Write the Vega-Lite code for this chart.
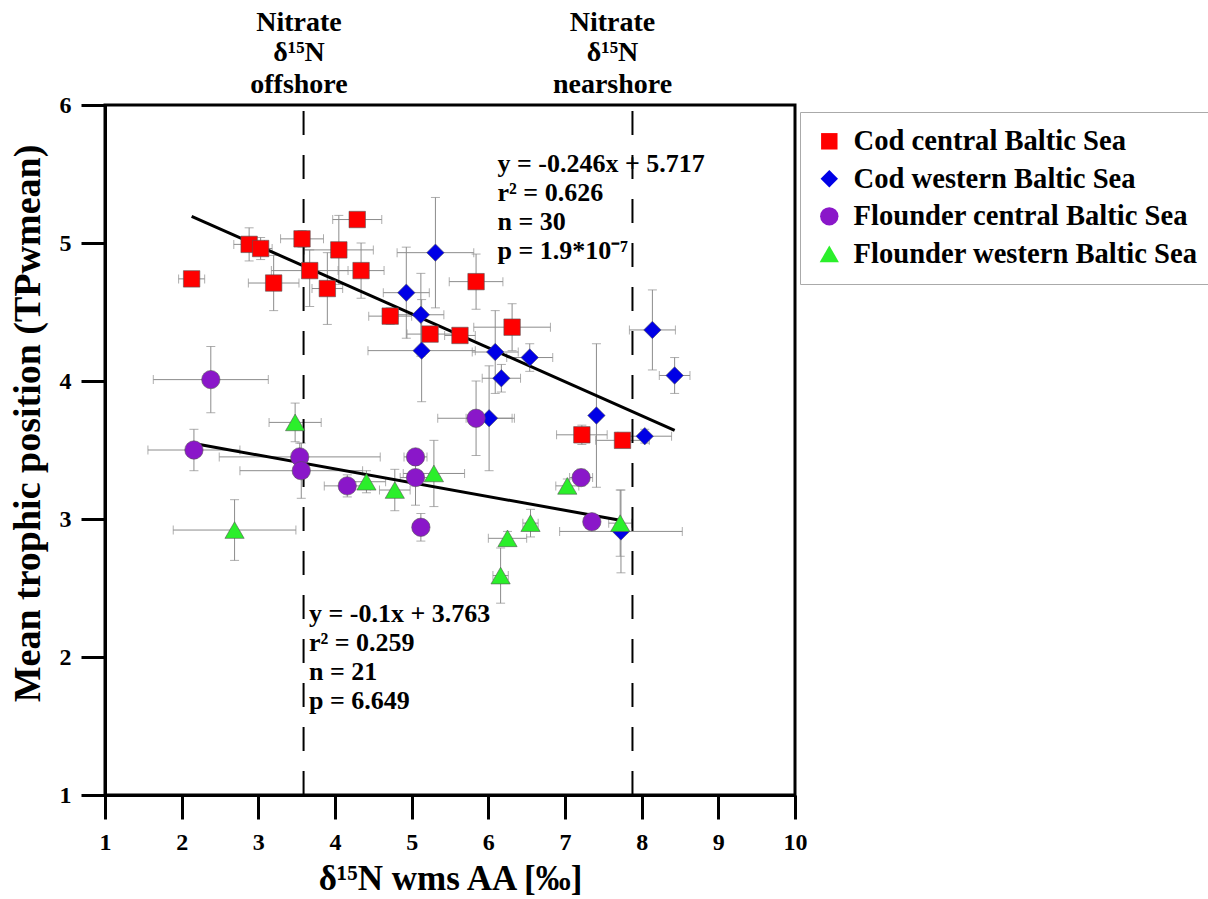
{
  "$schema": "https://vega.github.io/schema/vega-lite/v6.json",
  "width": 690,
  "height": 690,
  "autosize": "none",
  "padding": {"left": 105, "top": 105, "right": 413, "bottom": 104},
  "background": "white",
  "config": {
    "view": {"stroke": "black", "strokeWidth": 3},
    "axis": {
      "labelFont": "Liberation Serif", "labelFontWeight": "bold", "labelFontSize": 24, "labelColor": "black",
      "titleFont": "Liberation Serif", "titleFontWeight": "bold", "titleFontSize": 35, "titleColor": "black",
      "domainColor": "black", "domainWidth": 3, "tickColor": "black", "tickWidth": 3, "tickSize": 24, "grid": false,
      "format": "d", "titleLimit": 1000, "labelFlush": false
    },
    "axisX": {"labelPadding": 11, "titlePadding": 7},
    "axisY": {"labelPadding": 10, "titlePadding": 12, "labelFontSize": 24, "titleFontSize": 38, "titleY": 318}
  },
  "datasets": {
    "pts": [
      {"g": "Cod central Baltic Sea", "x": 2.13, "y": 4.74, "xlo": 1.96, "xhi": 2.30, "ylo": 4.70, "yhi": 4.78},
      {"g": "Cod central Baltic Sea", "x": 2.88, "y": 4.99, "xlo": 2.68, "xhi": 3.08, "ylo": 4.87, "yhi": 5.11},
      {"g": "Cod central Baltic Sea", "x": 3.03, "y": 4.96, "xlo": 2.88, "xhi": 3.18, "ylo": 4.88, "yhi": 5.04},
      {"g": "Cod central Baltic Sea", "x": 3.57, "y": 5.03, "xlo": 3.29, "xhi": 3.85, "ylo": 4.97, "yhi": 5.09},
      {"g": "Cod central Baltic Sea", "x": 3.20, "y": 4.71, "xlo": 2.87, "xhi": 3.53, "ylo": 4.51, "yhi": 4.91},
      {"g": "Cod central Baltic Sea", "x": 3.67, "y": 4.80, "xlo": 3.17, "xhi": 4.17, "ylo": 4.54, "yhi": 4.95},
      {"g": "Cod central Baltic Sea", "x": 3.90, "y": 4.67, "xlo": 3.70, "xhi": 4.10, "ylo": 4.41, "yhi": 4.93},
      {"g": "Cod central Baltic Sea", "x": 4.05, "y": 4.95, "xlo": 3.60, "xhi": 4.50, "ylo": 4.70, "yhi": 5.20},
      {"g": "Cod central Baltic Sea", "x": 4.29, "y": 5.17, "xlo": 3.97, "xhi": 4.61, "ylo": 5.12, "yhi": 5.22},
      {"g": "Cod central Baltic Sea", "x": 4.34, "y": 4.80, "xlo": 4.04, "xhi": 4.64, "ylo": 4.60, "yhi": 5.00},
      {"g": "Cod central Baltic Sea", "x": 4.72, "y": 4.47, "xlo": 4.44, "xhi": 5.00, "ylo": 4.41, "yhi": 4.53},
      {"g": "Cod central Baltic Sea", "x": 5.24, "y": 4.34, "xlo": 4.94, "xhi": 5.54, "ylo": 4.29, "yhi": 4.39},
      {"g": "Cod central Baltic Sea", "x": 5.63, "y": 4.33, "xlo": 5.43, "xhi": 5.83, "ylo": 4.28, "yhi": 4.38},
      {"g": "Cod central Baltic Sea", "x": 5.84, "y": 4.72, "xlo": 5.49, "xhi": 6.19, "ylo": 4.52, "yhi": 4.92},
      {"g": "Cod central Baltic Sea", "x": 6.31, "y": 4.39, "xlo": 5.81, "xhi": 6.81, "ylo": 4.22, "yhi": 4.56},
      {"g": "Cod central Baltic Sea", "x": 7.22, "y": 3.61, "xlo": 6.89, "xhi": 7.55, "ylo": 3.54, "yhi": 3.68},
      {"g": "Cod central Baltic Sea", "x": 7.75, "y": 3.57, "xlo": 7.40, "xhi": 8.10, "ylo": 3.52, "yhi": 3.62},
      {"g": "Cod western Baltic Sea", "x": 5.31, "y": 4.93, "xlo": 4.81, "xhi": 5.81, "ylo": 4.53, "yhi": 5.33},
      {"g": "Cod western Baltic Sea", "x": 4.93, "y": 4.64, "xlo": 4.63, "xhi": 5.23, "ylo": 4.31, "yhi": 4.97},
      {"g": "Cod western Baltic Sea", "x": 5.12, "y": 4.48, "xlo": 4.82, "xhi": 5.42, "ylo": 4.18, "yhi": 4.78},
      {"g": "Cod western Baltic Sea", "x": 5.13, "y": 4.22, "xlo": 4.43, "xhi": 5.83, "ylo": 3.85, "yhi": 4.59},
      {"g": "Cod western Baltic Sea", "x": 6.09, "y": 4.21, "xlo": 5.79, "xhi": 6.39, "ylo": 3.91, "yhi": 4.51},
      {"g": "Cod western Baltic Sea", "x": 6.54, "y": 4.17, "xlo": 6.24, "xhi": 6.84, "ylo": 4.07, "yhi": 4.27},
      {"g": "Cod western Baltic Sea", "x": 6.17, "y": 4.02, "xlo": 5.92, "xhi": 6.42, "ylo": 3.92, "yhi": 4.12},
      {"g": "Cod western Baltic Sea", "x": 6.01, "y": 3.73, "xlo": 5.71, "xhi": 6.31, "ylo": 3.35, "yhi": 4.11},
      {"g": "Cod western Baltic Sea", "x": 7.41, "y": 3.75, "xlo": 7.36, "xhi": 7.46, "ylo": 3.23, "yhi": 4.27},
      {"g": "Cod western Baltic Sea", "x": 8.14, "y": 4.37, "xlo": 7.84, "xhi": 8.44, "ylo": 4.08, "yhi": 4.66},
      {"g": "Cod western Baltic Sea", "x": 8.43, "y": 4.04, "xlo": 8.23, "xhi": 8.63, "ylo": 3.91, "yhi": 4.17},
      {"g": "Cod western Baltic Sea", "x": 8.04, "y": 3.60, "xlo": 7.69, "xhi": 8.39, "ylo": 3.55, "yhi": 3.65},
      {"g": "Cod western Baltic Sea", "x": 7.73, "y": 2.91, "xlo": 6.93, "xhi": 8.53, "ylo": 2.61, "yhi": 3.21},
      {"g": "Flounder central Baltic Sea", "x": 2.38, "y": 4.01, "xlo": 1.63, "xhi": 3.13, "ylo": 3.77, "yhi": 4.25},
      {"g": "Flounder central Baltic Sea", "x": 2.16, "y": 3.50, "xlo": 1.56, "xhi": 2.76, "ylo": 3.35, "yhi": 3.65},
      {"g": "Flounder central Baltic Sea", "x": 3.54, "y": 3.45, "xlo": 2.49, "xhi": 4.59, "ylo": 3.35, "yhi": 3.55},
      {"g": "Flounder central Baltic Sea", "x": 3.56, "y": 3.35, "xlo": 2.76, "xhi": 4.36, "ylo": 3.15, "yhi": 3.55},
      {"g": "Flounder central Baltic Sea", "x": 4.16, "y": 3.24, "xlo": 3.86, "xhi": 4.46, "ylo": 3.16, "yhi": 3.32},
      {"g": "Flounder central Baltic Sea", "x": 5.05, "y": 3.45, "xlo": 4.90, "xhi": 5.20, "ylo": 3.40, "yhi": 3.50},
      {"g": "Flounder central Baltic Sea", "x": 5.05, "y": 3.30, "xlo": 4.85, "xhi": 5.25, "ylo": 3.10, "yhi": 3.50},
      {"g": "Flounder central Baltic Sea", "x": 5.12, "y": 2.94, "xlo": 5.02, "xhi": 5.22, "ylo": 2.84, "yhi": 3.04},
      {"g": "Flounder central Baltic Sea", "x": 5.84, "y": 3.73, "xlo": 5.34, "xhi": 6.34, "ylo": 3.46, "yhi": 4.00},
      {"g": "Flounder central Baltic Sea", "x": 7.21, "y": 3.30, "xlo": 7.06, "xhi": 7.36, "ylo": 3.24, "yhi": 3.36},
      {"g": "Flounder central Baltic Sea", "x": 7.35, "y": 2.98, "xlo": 7.25, "xhi": 7.45, "ylo": 2.93, "yhi": 3.03},
      {"g": "Flounder western Baltic Sea", "x": 3.48, "y": 3.70, "xlo": 3.14, "xhi": 3.82, "ylo": 3.56, "yhi": 3.84},
      {"g": "Flounder western Baltic Sea", "x": 2.69, "y": 2.92, "xlo": 1.89, "xhi": 3.49, "ylo": 2.70, "yhi": 3.14},
      {"g": "Flounder western Baltic Sea", "x": 4.41, "y": 3.27, "xlo": 4.16, "xhi": 4.66, "ylo": 3.19, "yhi": 3.35},
      {"g": "Flounder western Baltic Sea", "x": 4.78, "y": 3.21, "xlo": 4.58, "xhi": 4.98, "ylo": 3.06, "yhi": 3.36},
      {"g": "Flounder western Baltic Sea", "x": 5.29, "y": 3.33, "xlo": 4.89, "xhi": 5.69, "ylo": 3.09, "yhi": 3.57},
      {"g": "Flounder western Baltic Sea", "x": 6.55, "y": 2.97, "xlo": 6.45, "xhi": 6.65, "ylo": 2.87, "yhi": 3.07},
      {"g": "Flounder western Baltic Sea", "x": 6.25, "y": 2.86, "xlo": 6.00, "xhi": 6.50, "ylo": 2.81, "yhi": 2.91},
      {"g": "Flounder western Baltic Sea", "x": 6.16, "y": 2.59, "xlo": 6.06, "xhi": 6.26, "ylo": 2.39, "yhi": 2.79},
      {"g": "Flounder western Baltic Sea", "x": 7.03, "y": 3.24, "xlo": 6.88, "xhi": 7.18, "ylo": 3.19, "yhi": 3.29},
      {"g": "Flounder western Baltic Sea", "x": 7.72, "y": 2.97, "xlo": 7.57, "xhi": 7.87, "ylo": 2.73, "yhi": 3.21}
    ],
    "fits": [
      {"line": "cod", "x": 2.13, "y": 5.193},
      {"line": "cod", "x": 8.43, "y": 3.643},
      {"line": "flounder", "x": 2.16, "y": 3.547},
      {"line": "flounder", "x": 7.70, "y": 2.993}
    ],
    "refs": [{"x": 3.59}, {"x": 7.88}],
    "heads": [
      {"x": 3.53, "y": 6.595, "t": "Nitrate"},
      {"x": 3.53, "y": 6.375, "t": "δ¹⁵N"},
      {"x": 3.53, "y": 6.145, "t": "offshore"},
      {"x": 7.62, "y": 6.595, "t": "Nitrate"},
      {"x": 7.62, "y": 6.375, "t": "δ¹⁵N"},
      {"x": 7.62, "y": 6.145, "t": "nearshore"}
    ],
    "eqs": [
      {"x": 6.12, "y": 5.514, "t": "y = -0.246x + 5.717"},
      {"x": 6.12, "y": 5.304, "t": "r² = 0.626"},
      {"x": 6.12, "y": 5.094, "t": "n = 30"},
      {"x": 6.12, "y": 4.884, "t": "p = 1.9*10⁻⁷"},
      {"x": 3.66, "y": 2.254, "t": "y = -0.1x + 3.763"},
      {"x": 3.66, "y": 2.043, "t": "r² = 0.259"},
      {"x": 3.66, "y": 1.833, "t": "n = 21"},
      {"x": 3.66, "y": 1.623, "t": "p = 6.649"}
    ]
  },
  "layer": [
    {
      "data": {"name": "pts"},
      "mark": {"type": "errorbar", "ticks": {"size": 9}, "color": "#8c8c8c", "thickness": 1},
      "encoding": {
        "x": {"field": "xlo", "type": "quantitative", "title": "δ¹⁵N wms AA [‰]", "scale": {"domain": [1, 10], "nice": false, "zero": false}, "axis": {"values": [1, 2, 3, 4, 5, 6, 7, 8, 9, 10]}},
        "x2": {"field": "xhi"},
        "y": {"field": "y", "type": "quantitative", "title": "Mean trophic position (TPwmean)", "scale": {"domain": [1, 6], "nice": false, "zero": false}, "axis": {"values": [1, 2, 3, 4, 5, 6]}}
      }
    },
    {
      "data": {"name": "pts"},
      "mark": {"type": "errorbar", "ticks": {"size": 9}, "color": "#8c8c8c", "thickness": 1},
      "encoding": {
        "x": {"field": "x", "type": "quantitative", "title": "δ¹⁵N wms AA [‰]"},
        "y": {"field": "ylo", "type": "quantitative", "title": "Mean trophic position (TPwmean)"},
        "y2": {"field": "yhi"}
      }
    },
    {
      "data": {"name": "refs"},
      "mark": {"type": "rule", "color": "black", "strokeWidth": 2, "strokeDash": [24, 20]},
      "encoding": {
        "x": {"field": "x", "type": "quantitative", "title": "δ¹⁵N wms AA [‰]"},
        "y": {"datum": 1, "type": "quantitative", "title": "Mean trophic position (TPwmean)"},
        "y2": {"datum": 6}
      }
    },
    {
      "data": {"name": "fits"},
      "mark": {"type": "line", "color": "black", "strokeWidth": 3},
      "encoding": {
        "x": {"field": "x", "type": "quantitative", "title": "δ¹⁵N wms AA [‰]"},
        "y": {"field": "y", "type": "quantitative", "title": "Mean trophic position (TPwmean)"},
        "detail": {"field": "line"}
      }
    },
    {
      "data": {"name": "pts"},
      "mark": {"type": "point", "filled": true, "opacity": 1, "stroke": "#555555", "strokeWidth": 0.6},
      "encoding": {
        "x": {"field": "x", "type": "quantitative", "title": "δ¹⁵N wms AA [‰]"},
        "y": {"field": "y", "type": "quantitative", "title": "Mean trophic position (TPwmean)"},
        "size": {
          "field": "g", "type": "nominal", "legend": null,
          "scale": {"domain": ["Cod central Baltic Sea", "Cod western Baltic Sea", "Flounder central Baltic Sea", "Flounder western Baltic Sea"], "range": [270, 370, 280, 340]}
        },
        "color": {
          "field": "g", "type": "nominal",
          "scale": {"domain": ["Cod central Baltic Sea", "Cod western Baltic Sea", "Flounder central Baltic Sea", "Flounder western Baltic Sea"], "range": ["#ff0000", "#0000e6", "#8a17c9", "#2bef2b"]},
          "legend": {"orient": "none", "legendX": 695, "legendY": 7, "title": null, "labelFont": "Liberation Serif", "labelFontWeight": "bold", "labelFontSize": 28.6, "labelColor": "black", "symbolSize": 280, "rowPadding": 8.5, "padding": 15, "strokeColor": "#aaaaaa", "fillColor": "white", "labelOffset": 10, "labelLimit": 600, "symbolStrokeWidth": 0}
        },
        "shape": {
          "field": "g", "type": "nominal",
          "scale": {"domain": ["Cod central Baltic Sea", "Cod western Baltic Sea", "Flounder central Baltic Sea", "Flounder western Baltic Sea"], "range": ["square", "diamond", "circle", "triangle-up"]},
          "legend": {"orient": "none", "legendX": 695, "legendY": 7, "title": null, "labelFont": "Liberation Serif", "labelFontWeight": "bold", "labelFontSize": 28.6, "labelColor": "black", "symbolSize": 280, "rowPadding": 8.5, "padding": 15, "strokeColor": "#aaaaaa", "fillColor": "white", "labelOffset": 10, "labelLimit": 600, "symbolStrokeWidth": 0}
        }
      }
    },
    {
      "data": {"name": "heads"},
      "mark": {"type": "text", "font": "Liberation Serif", "fontWeight": "bold", "fontSize": 28, "color": "black", "align": "center", "baseline": "middle", "clip": false},
      "encoding": {
        "x": {"field": "x", "type": "quantitative", "title": "δ¹⁵N wms AA [‰]"},
        "y": {"field": "y", "type": "quantitative", "title": "Mean trophic position (TPwmean)"},
        "text": {"field": "t"}
      }
    },
    {
      "data": {"name": "eqs"},
      "mark": {"type": "text", "font": "Liberation Serif", "fontWeight": "bold", "fontSize": 26, "color": "black", "align": "left", "baseline": "alphabetic"},
      "encoding": {
        "x": {"field": "x", "type": "quantitative", "title": "δ¹⁵N wms AA [‰]"},
        "y": {"field": "y", "type": "quantitative", "title": "Mean trophic position (TPwmean)"},
        "text": {"field": "t"}
      }
    }
  ]
}
